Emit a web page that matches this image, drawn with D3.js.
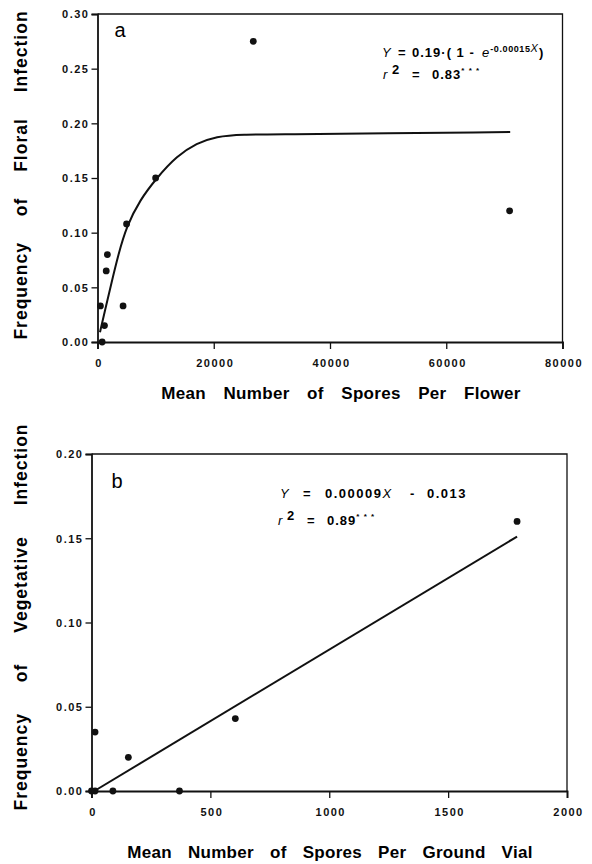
<!DOCTYPE html>
<html>
<head>
<meta charset="utf-8">
<script src="https://cdn.jsdelivr.net/npm/d3@7"></script>
<style>
  body { margin: 0; background: #fff; }
  svg { font-family: "Liberation Sans", Arial, sans-serif; }
  .tick-label { font-size: 11px; font-weight: bold; letter-spacing: 1.5px; }
  .axis-title { font-size: 17px; font-weight: bold; letter-spacing: 0.3px; }
  .y-title { font-size: 17.5px; letter-spacing: 1px; }
  .eq { font-size: 13px; font-weight: bold; letter-spacing: 1px; white-space: pre; }
  .it { font-style: italic; font-weight: normal; }
</style>
</head>
<body>
<svg id="mainsvg" width="592" height="864"></svg>
<script>
// panel a: floral infection
const floralSpores    = [26800, 10000, 5000, 1700, 1500, 4400, 500, 1200, 800, 70900];
const floralInfection = [0.275, 0.150, 0.108, 0.080, 0.065, 0.033, 0.033, 0.015, 0.000, 0.120];
const floralFitX = [430, 1290, 2270, 3580, 5020, 7310, 10180, 13620, 17060, 20500, 24500, 33100, 71000];
const floralFitY = [0.009, 0.029, 0.051, 0.080, 0.106, 0.130, 0.150, 0.170, 0.182, 0.188, 0.190, 0.190, 0.192];
const floralXTicks = [0, 20000, 40000, 60000, 80000];
const floralYTicks = [0.00, 0.05, 0.10, 0.15, 0.20, 0.25, 0.30];

// panel b: vegetative infection
const vegSpores    = [0, 15, 90, 370, 15, 155, 605, 1790];
const vegInfection = [0, 0, 0, 0, 0.035, 0.020, 0.043, 0.160];
const vegFitX = [12, 1790];
const vegFitY = [0.000, 0.151];
const vegXTicks = [0, 500, 1000, 1500, 2000];
const vegYTicks = [0.00, 0.05, 0.10, 0.15, 0.20];

const svg = d3.select('#mainsvg');

function drawPanel(p) {
    const g = svg.append('g');
    const xScale = d3.scaleLinear().domain(p.xDomain).range([p.left, p.right]);
    const yScale = d3.scaleLinear().domain(p.yDomain).range([p.bottom, p.top]);

    // frame (top + right)
    g.append('path')
        .attr('d', `M${p.left},${p.top}H${p.right}V${p.bottom}`)
        .attr('fill', 'none').attr('stroke', '#111').attr('stroke-width', 1.3);

    // x axis
    const xAxis = g.append('g')
        .attr('transform', `translate(0,${p.bottom})`)
        .call(d3.axisBottom(xScale).tickValues(p.xTicks).tickSize(7).tickFormat(d3.format('d')));
    xAxis.select('.domain').attr('stroke-width', 1.8).attr('stroke', '#111');
    xAxis.selectAll('.tick line').attr('stroke-width', 1.3).attr('stroke', '#111');
    xAxis.selectAll('.tick text')
        .attr('class', 'tick-label').attr('fill', '#111')
        .attr('y', 0).attr('dy', 0)
        .attr('transform', 'translate(1,25)');

    // y axis
    const yAxis = g.append('g')
        .attr('transform', `translate(${p.left},0)`)
        .call(d3.axisLeft(yScale).tickValues(p.yTicks).tickSize(6).tickFormat(d3.format('.2f')));
    yAxis.select('.domain').attr('stroke-width', 1.8).attr('stroke', '#111');
    yAxis.selectAll('.tick line').attr('stroke-width', 1.3).attr('stroke', '#111');
    yAxis.selectAll('.tick text')
        .attr('class', 'tick-label').attr('fill', '#111')
        .attr('x', -8).attr('dy', '0.36em');
    xAxis.attr('font-family', null).attr('font-size', null);
    yAxis.attr('font-family', null).attr('font-size', null);

    // fitted line
    const fit = p.fitX.map((x, i) => [x, p.fitY[i]]);
    g.append('path')
        .datum(fit)
        .attr('d', d3.line().x(d => xScale(d[0])).y(d => yScale(d[1])).curve(d3.curveBasis))
        .attr('fill', 'none').attr('stroke', '#111').attr('stroke-width', 2);

    // points
    const pts = p.xs.map((x, i) => [x, p.ys[i]]);
    g.selectAll('.pt').data(pts).enter().append('circle')
        .attr('class', 'pt')
        .attr('cx', d => xScale(d[0]))
        .attr('cy', d => yScale(d[1]))
        .attr('r', 3.4)
        .attr('fill', '#111');

    // panel letter
    g.append('text')
        .attr('x', p.left + p.letterDx).attr('y', p.top + p.letterDy)
        .style('font-size', '20px')
        .text(p.letter);

    // axis titles
    g.append('text')
        .attr('class', 'axis-title')
        .attr('x', p.xTitleX).attr('y', p.xTitleY)
        .attr('text-anchor', 'middle')
        .style('word-spacing', p.xWordSpacing + 'px')
        .text(p.xTitle);

    g.append('text')
        .attr('class', 'axis-title y-title')
        .attr('transform', `translate(27,${p.yTitleY}) rotate(-90)`)
        .attr('text-anchor', 'middle')
        .style('word-spacing', p.yWordSpacing + 'px')
        .text(p.yTitle);

    return g;
}

const ga = drawPanel({
    xDomain: [0, 80000], yDomain: [0, 0.30],
    left: 97.5, right: 562.5, top: 14, bottom: 342,
    xTicks: floralXTicks, yTicks: floralYTicks,
    xs: floralSpores, ys: floralInfection,
    fitX: floralFitX, fitY: floralFitY,
    letter: 'a', letterDx: 17, letterDy: 23,
    xTitle: 'Mean Number of Spores Per Flower', xTitleX: 341, xTitleY: 399, xWordSpacing: 12.5,
    yTitle: 'Frequency of Floral Infection', yTitleY: 175, yWordSpacing: 20
});

const gb = drawPanel({
    xDomain: [0, 2000], yDomain: [0, 0.20],
    left: 91.5, right: 567, top: 454, bottom: 791,
    xTicks: vegXTicks, yTicks: vegYTicks,
    xs: vegSpores, ys: vegInfection,
    fitX: vegFitX, fitY: vegFitY,
    letter: 'b', letterDx: 20, letterDy: 34,
    xTitle: 'Mean Number of Spores Per Ground Vial', xTitleX: 330, xTitleY: 858, xWordSpacing: 11,
    yTitle: 'Frequency of Vegetative Infection', yTitleY: 617, yWordSpacing: 25
});

// equations
function eqLine(g, x, y, parts) {
    const t = g.append('text').attr('class', 'eq').attr('x', x).attr('y', y);
    parts.forEach(pt => {
        const s = t.append('tspan').text(pt.t);
        if (pt.x !== undefined) s.attr('x', pt.x);
        if (pt.it) s.attr('class', 'it');
        if (pt.dy) s.attr('dy', pt.dy);
        if (pt.fs) s.style('font-size', pt.fs);
        if (pt.ls) s.style('letter-spacing', pt.ls);
    });
}

eqLine(ga, 382, 57, [
    {t: 'Y', it: true},
    {t: '=', x: 398},
    {t: '0.19·( 1 - ', x: 412},
    {t: 'e', it: true, x: 482},
    {t: '-0.00015', dy: -5, ls: '0.6px', fs: '9px'},
    {t: 'X', it: true, fs: '11px'},
    {t: ')', dy: 5}
]);
eqLine(ga, 383, 79, [
    {t: 'r', it: true},
    {t: '2', x: 392, dy: -5},
    {t: '=', x: 412, dy: 5},
    {t: '0.83', x: 432},
    {t: '* * *', dy: -6, fs: '8px'}
]);

eqLine(gb, 280, 498, [
    {t: 'Y', it: true},
    {t: '=', x: 303},
    {t: '0.00009', x: 325, ls: '1.5px'},
    {t: 'X', it: true},
    {t: '-', x: 410},
    {t: '0.013', x: 427, ls: '1.5px'}
]);
eqLine(gb, 278, 525, [
    {t: 'r', it: true},
    {t: '2', x: 287, dy: -5},
    {t: '=', x: 307, dy: 5},
    {t: '0.89', x: 327},
    {t: '* * *', dy: -6, fs: '8px'}
]);
</script>
</body>
</html>
